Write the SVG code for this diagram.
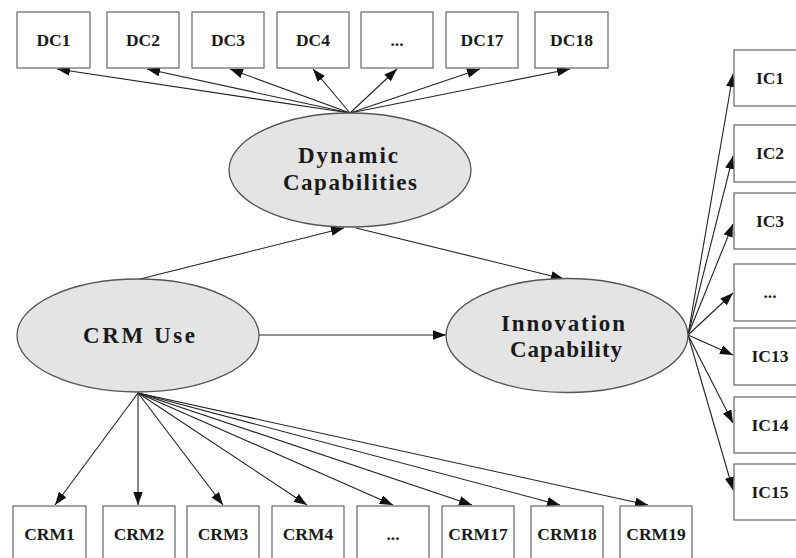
<svg xmlns="http://www.w3.org/2000/svg" width="796" height="558" viewBox="0 0 796 558">
<defs>
<marker id="ah" markerUnits="userSpaceOnUse" markerWidth="14" markerHeight="10" refX="13" refY="4.75" orient="auto">
<path d="M0,0 L13,4.75 L0,9.5 z" fill="#111"/>
</marker>
<style>
.box{fill:#fff;stroke:#666;stroke-width:1.2}
.ell{fill:#e4e4e4;stroke:#555;stroke-width:1.3}
.bt{font-size:17.5px;font-weight:bold;fill:#1a1a1a;text-anchor:middle}
.et{font-size:23px;font-weight:bold;fill:#1a1a1a;text-anchor:middle}
.edge line{stroke:#222;stroke-width:1.1;marker-end:url(#ah)}
</style>
</defs>
<rect width="796" height="558" fill="#fff"/>

<g id="connectors" class="edge">
<line x1="350" y1="113" x2="57" y2="69"/>
<line x1="350" y1="113" x2="147" y2="69"/>
<line x1="350" y1="113" x2="230" y2="69"/>
<line x1="350" y1="113" x2="313" y2="69"/>
<line x1="350" y1="113" x2="397" y2="69"/>
<line x1="350" y1="113" x2="480" y2="69"/>
<line x1="350" y1="113" x2="570" y2="69"/>
<line x1="140" y1="279" x2="344" y2="228"/>
<line x1="356" y1="228" x2="564" y2="279"/>
<line x1="259" y1="335" x2="446" y2="335"/>
<line x1="688" y1="335" x2="733" y2="74"/>
<line x1="688" y1="335" x2="733" y2="156"/>
<line x1="688" y1="335" x2="733" y2="224"/>
<line x1="688" y1="335" x2="733" y2="293"/>
<line x1="688" y1="335" x2="733" y2="355"/>
<line x1="688" y1="335" x2="733" y2="423"/>
<line x1="688" y1="335" x2="733" y2="490"/>
<line x1="138" y1="393" x2="55" y2="505"/>
<line x1="138" y1="393" x2="138" y2="505"/>
<line x1="138" y1="393" x2="223" y2="505"/>
<line x1="138" y1="393" x2="307" y2="505"/>
<line x1="138" y1="393" x2="393" y2="505"/>
<line x1="138" y1="393" x2="472" y2="505"/>
<line x1="138" y1="393" x2="560" y2="505"/>
<line x1="138" y1="393" x2="648" y2="505"/>
</g>

<g font-family="Liberation Serif, serif">
<g id="dynamic-capabilities">
<ellipse class="ell" cx="350" cy="170" rx="121" ry="57"/>
<text class="et" x="348" y="163" textLength="100" lengthAdjust="spacing">Dynamic</text>
<text class="et" x="350" y="190" textLength="134" lengthAdjust="spacing">Capabilities</text>
</g>
<g id="crm-use">
<ellipse class="ell" cx="138" cy="335.5" rx="121" ry="56.5"/>
<text class="et" x="139" y="343" textLength="112" lengthAdjust="spacing">CRM Use</text>
</g>
<g id="innovation-capability">
<ellipse class="ell" cx="567" cy="335.5" rx="121" ry="57"/>
<text class="et" x="563" y="331" textLength="124" lengthAdjust="spacing">Innovation</text>
<text class="et" x="566" y="357" textLength="112" lengthAdjust="spacing">Capability</text>
</g>

<g id="DC1"><rect class="box" x="17" y="12" width="73" height="56"/><text class="bt" x="53.5" y="46">DC1</text></g>
<g id="DC2"><rect class="box" x="107" y="12" width="72" height="56"/><text class="bt" x="143" y="46">DC2</text></g>
<g id="DC3"><rect class="box" x="192" y="12" width="72" height="56"/><text class="bt" x="228" y="46">DC3</text></g>
<g id="DC4"><rect class="box" x="277" y="12" width="72" height="56"/><text class="bt" x="313" y="46">DC4</text></g>
<g id="DC-dots"><rect class="box" x="361" y="12" width="72" height="56"/><text class="bt" x="397" y="46">...</text></g>
<g id="DC17"><rect class="box" x="446" y="12" width="72" height="56"/><text class="bt" x="482" y="46">DC17</text></g>
<g id="DC18"><rect class="box" x="535" y="12" width="73" height="56"/><text class="bt" x="571.5" y="46">DC18</text></g>

<g id="IC1"><rect class="box" x="734" y="50" width="74" height="56"/><text class="bt" x="770" y="84">IC1</text></g>
<g id="IC2"><rect class="box" x="734" y="125" width="74" height="57"/><text class="bt" x="770" y="159">IC2</text></g>
<g id="IC3"><rect class="box" x="734" y="193" width="74" height="56"/><text class="bt" x="770" y="227">IC3</text></g>
<g id="IC-dots"><rect class="box" x="734" y="264" width="74" height="57"/><text class="bt" x="770" y="298">...</text></g>
<g id="IC13"><rect class="box" x="734" y="328" width="74" height="57"/><text class="bt" x="770" y="362">IC13</text></g>
<g id="IC14"><rect class="box" x="734" y="397" width="74" height="56"/><text class="bt" x="770" y="431">IC14</text></g>
<g id="IC15"><rect class="box" x="734" y="464" width="74" height="56"/><text class="bt" x="770" y="498">IC15</text></g>

<g id="CRM1"><rect class="box" x="13" y="506" width="73" height="58"/><text class="bt" x="49.5" y="540">CRM1</text></g>
<g id="CRM2"><rect class="box" x="103" y="506" width="72" height="58"/><text class="bt" x="139" y="540">CRM2</text></g>
<g id="CRM3"><rect class="box" x="187" y="506" width="72" height="58"/><text class="bt" x="223" y="540">CRM3</text></g>
<g id="CRM4"><rect class="box" x="272" y="506" width="72" height="58"/><text class="bt" x="308" y="540">CRM4</text></g>
<g id="CRM-dots"><rect class="box" x="357" y="506" width="72" height="58"/><text class="bt" x="393" y="540">...</text></g>
<g id="CRM17"><rect class="box" x="442" y="506" width="72" height="58"/><text class="bt" x="478" y="540">CRM17</text></g>
<g id="CRM18"><rect class="box" x="531" y="506" width="72" height="58"/><text class="bt" x="567" y="540">CRM18</text></g>
<g id="CRM19"><rect class="box" x="620" y="506" width="72" height="58"/><text class="bt" x="656" y="540">CRM19</text></g>
</g>
</svg>
